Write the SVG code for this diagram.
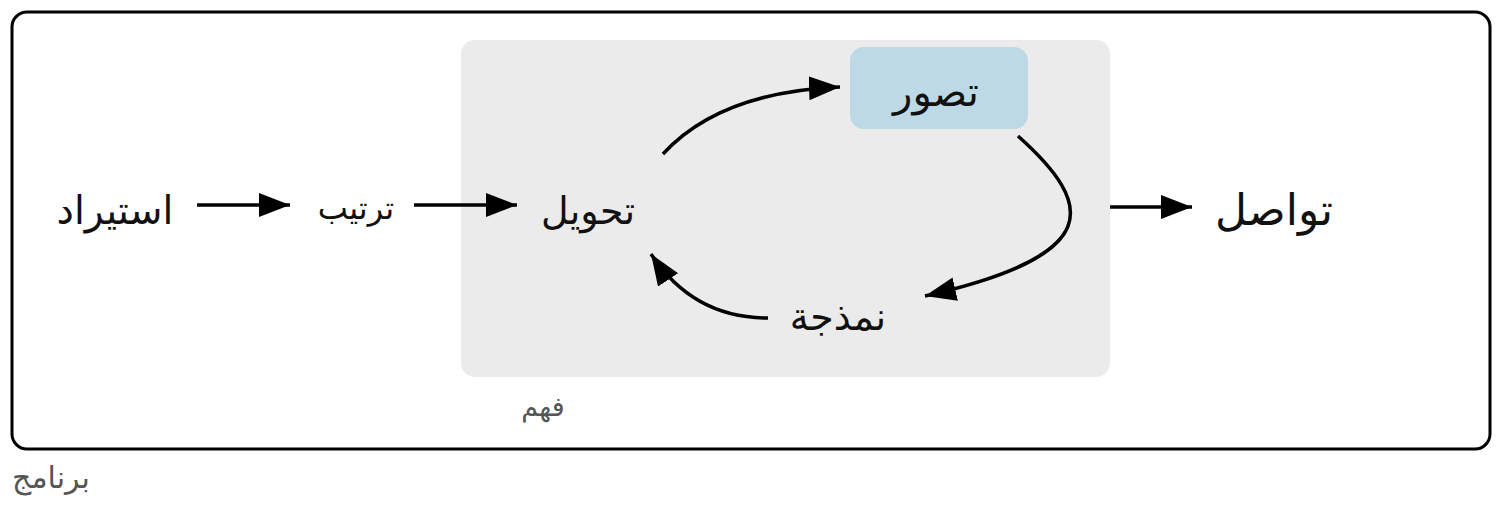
<svg xmlns="http://www.w3.org/2000/svg" width="1504" height="508" viewBox="0 0 1504 508">
<style>
text{font-family:"DejaVu Sans","Noto Sans",sans-serif;text-anchor:middle;fill:#111}
.lbl{fill:#555}
.c{fill:none;stroke:#000;stroke-width:3.5}
</style>
<defs>
<marker id="ah" markerUnits="userSpaceOnUse" markerWidth="34" markerHeight="26" refX="31" refY="12" orient="auto">
<path d="M0,0 L31,12 L0,24 Z" fill="#000"/>
</marker>
</defs>
<rect width="1504" height="508" fill="#fff"/>
<g id="program">
<rect x="12" y="12" width="1478" height="437" rx="15" fill="none" stroke="#000" stroke-width="3"/>
<text class="lbl" x="51" y="488" font-size="30">برنامج</text>
</g>
<g id="understand">
<rect x="461" y="40" width="649" height="337" rx="14" fill="#ebebeb"/>
<text class="lbl" x="543" y="416" font-size="27">فهم</text>
</g>
<g id="import"><text x="115" y="224" font-size="39">استيراد</text></g>
<g id="tidy"><text x="356" y="219" font-size="32">ترتيب</text></g>
<g id="transform"><text x="588" y="224" font-size="38">تحويل</text></g>
<g id="visualise">
<rect x="850" y="47" width="178" height="82" rx="14" fill="#bcd9e5"/>
<text x="936" y="106" font-size="40">تصور</text>
</g>
<g id="model"><text x="838" y="330" font-size="38">نمذجة</text></g>
<g id="communicate"><text x="1274" y="225" font-size="44">تواصل</text></g>
<g id="connectors">
<path class="c" d="M197,205 L290,205" marker-end="url(#ah)"/>
<path class="c" d="M414,205 L517,205" marker-end="url(#ah)"/>
<path class="c" d="M1110,207 L1192,207" marker-end="url(#ah)"/>
<path class="c" d="M663,154 Q720,92 840,87" marker-end="url(#ah)"/>
<path class="c" d="M1018,136 C1095,205 1105,255 925,296" marker-end="url(#ah)"/>
<path class="c" d="M768,318 C720,318 680,298 651,254" marker-end="url(#ah)"/>
</g>
</svg>
